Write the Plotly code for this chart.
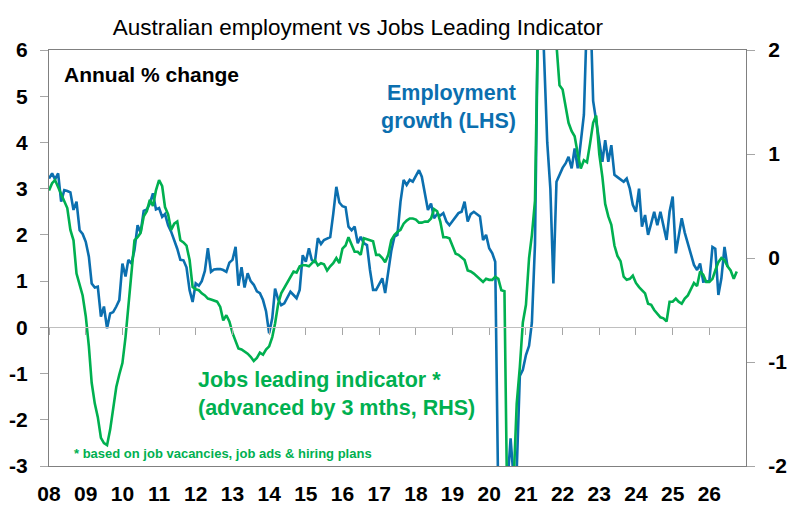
import pandas as pd
import plotly.graph_objects as go

# employment growth, annual % change, monthly from Jan 2008 (LHS)
emp_growth = [
    3.22, 3.33, 3.20, 3.33, 2.72, 2.97, 2.95, 2.92, 2.54, 2.72, 2.10, 2.02,   # 2008
    1.85, 1.53, 0.95, 0.86, 0.88, 0.23, 0.45, -0.02, 0.30, 0.33, 0.45, 0.59,  # 2009
    1.38, 1.10, 1.46, 1.38, 1.67, 2.21, 2.05, 2.52, 2.55, 2.68, 2.90, 2.55,   # 2010
    2.58, 2.39, 2.45, 2.21, 2.07, 1.89, 1.70, 1.46, 1.45, 1.30, 0.80, 0.55,   # 2011
    0.95, 0.90, 1.00, 1.22, 1.71, 1.20, 1.25, 1.26, 1.26, 1.24, 1.20, 1.40,   # 2012
    1.46, 1.74, 0.90, 1.30, 0.86, 1.17, 1.00, 0.92, 0.78, 0.74, 0.59, 0.35,   # 2013
    -0.13, 0.20, 0.84, 0.60, 0.48, 0.52, 0.65, 0.77, 0.70, 0.63, 0.81, 1.56,  # 2014
    1.42, 1.71, 1.46, 1.40, 1.93, 1.80, 1.89, 1.92, 1.95, 2.45, 3.04, 2.70,   # 2015
    2.62, 2.60, 2.18, 2.10, 2.18, 1.82, 1.96, 1.82, 1.78, 1.24, 0.81, 0.81,   # 2016
    0.95, 1.06, 0.74, 1.24, 1.65, 1.96, 2.00, 2.72, 3.19, 3.08, 3.19, 3.15,   # 2017
    3.26, 3.40, 3.26, 2.90, 2.54, 2.68, 2.36, 2.45, 2.42, 2.47, 2.29, 2.21,   # 2018
    2.30, 2.39, 2.47, 2.50, 2.72, 2.29, 2.45, 2.50, 2.45, 2.40, 1.89, 2.00,   # 2019
    1.71, 1.60, 1.42, -3.8, -4.4, -3.9, -3.4, -2.4, -3.3, -3.1, -1.05, -0.92, # 2020
    -0.60, -0.40, 0.10, 1.80, 6.80, 7.60, 5.60, 4.00, 3.00, 0.95, 3.15, 3.30, # 2021
    3.45, 3.55, 3.69, 3.44, 3.87, 3.44, 4.02, 4.60, 6.80, 7.20, 4.90, 4.50,   # 2022
    4.05, 3.58, 4.05, 3.58, 3.94, 3.30, 3.25, 3.19, 3.15, 3.22, 3.00, 2.65,   # 2023
    2.50, 3.00, 2.18, 2.43, 2.00, 2.25, 2.50, 2.21, 2.50, 2.20, 1.89, 2.50,   # 2024
    2.83, 1.60, 2.00, 2.36, 2.05, 1.82, 1.60, 1.35, 1.24, 1.38, 0.99, 1.00,   # 2025
    1.00, 1.74, 1.70, 0.70, 1.06, 1.74, 1.31,                                 # 2026
]

# jobs leading indicator, advanced by 3 months, monthly from Jan 2008 (RHS)
jobs_leading = [
    0.65, 0.72, 0.75, 0.68, 0.60, 0.53, 0.48, 0.27, 0.17, -0.15, -0.25, -0.36,      # 2008
    -0.56, -0.85, -1.20, -1.40, -1.53, -1.73, -1.78, -1.80, -1.65, -1.46, -1.24, -1.12,  # 2009
    -1.01, -0.76, -0.47, -0.12, 0.17, 0.20, 0.24, 0.40, 0.45, 0.56, 0.50, 0.65,     # 2010
    0.75, 0.69, 0.49, 0.42, 0.27, 0.33, 0.35, 0.17, 0.15, 0.12, -0.02, -0.28,       # 2011
    -0.30, -0.31, -0.34, -0.36, -0.39, -0.40, -0.41, -0.42, -0.47, -0.60, -0.55, -0.61,  # 2012
    -0.72, -0.79, -0.87, -0.88, -0.90, -0.92, -0.95, -0.99, -0.96, -0.91, -0.93, -0.88,  # 2013
    -0.85, -0.76, -0.63, -0.44, -0.34, -0.29, -0.23, -0.18, -0.13, -0.14, -0.08, -0.07,  # 2014
    -0.07, -0.08, -0.05, -0.02, -0.07, -0.05, -0.06, -0.12, -0.08, -0.05, 0.00, -0.05,   # 2015
    0.09, 0.12, 0.20, 0.12, 0.06, 0.06, 0.03, 0.19, 0.18, 0.17, 0.16, 0.03,         # 2016
    0.03, 0.00, -0.04, 0.03, 0.17, 0.22, 0.25, 0.27, 0.33, 0.36, 0.38, 0.38,        # 2017
    0.37, 0.34, 0.34, 0.35, 0.35, 0.38, 0.47, 0.45, 0.35, 0.20, 0.20, 0.19,         # 2018
    0.12, 0.04, 0.03, 0.00, -0.02, -0.12, -0.13, -0.15, -0.18, -0.20, -0.23, -0.20, # 2019
    -0.21, -0.21, -0.18, -0.20, -0.31, -0.32, -2.60, -2.90, -2.15, -1.40, -1.05, -0.62,  # 2020
    -0.45, 0.00, 0.22, 0.55, 2.30, 2.90, 3.30, 3.20, 2.90, 2.50, 2.05, 1.66,        # 2021
    1.62, 1.45, 1.30, 1.22, 1.17, 1.00, 0.86, 0.94, 0.92, 1.10, 1.30, 1.37,         # 2022
    1.00, 0.78, 0.52, 0.40, 0.32, 0.12, 0.02, -0.03, -0.18, -0.21, -0.20, -0.17,    # 2023
    -0.24, -0.28, -0.31, -0.34, -0.44, -0.45, -0.50, -0.53, -0.57, -0.58, -0.61, -0.42,  # 2024
    -0.42, -0.39, -0.42, -0.44, -0.39, -0.36, -0.30, -0.24, -0.27, -0.13, -0.16, -0.23,  # 2025
    -0.23, -0.20, -0.12, -0.04, 0.00, -0.02, -0.08, -0.12, -0.20, -0.13,            # 2026
]

year_ticks = [f"{y}-01-01" for y in range(2008, 2027)]
year_labels = [f"{y % 100:02d}" for y in range(2008, 2027)]
lhs_ticks = [-3, -2, -1, 0, 1, 2, 3, 4, 5, 6]
lhs_labels = ["-3", "-2", "-1", "0", "1", "2", "3", "4", "5", "6"]
rhs_ticks = [-2, -1, 0, 1, 2]
rhs_labels = ["-2", "-1", "0", "1", "2"]

emp_dates = pd.date_range("2008-01-01", periods=len(emp_growth), freq="MS")
jli_dates = pd.date_range("2008-01-01", periods=len(jobs_leading), freq="MS")

BLUE = "#0B6FAF"
GREEN = "#00B050"
FONT = "Liberation Sans, Arial, sans-serif"
x_range = ["2008-01-01", "2027-01-01"]

fig = go.Figure()
fig.add_trace(go.Scatter(x=emp_dates, y=emp_growth, mode="lines",
                         line=dict(color=BLUE, width=2.6),
                         xaxis="x", yaxis="y", showlegend=False))
fig.add_trace(go.Scatter(x=jli_dates, y=jobs_leading, mode="lines",
                         line=dict(color=GREEN, width=2.6),
                         xaxis="x2", yaxis="y2", showlegend=False))

tick_font = dict(family=FONT, size=21, color="black", weight="bold")

fig.update_layout(
    width=792, height=515,
    margin=dict(l=49, r=46, t=50, b=49),
    paper_bgcolor="white", plot_bgcolor="white",
    title=dict(text="Australian employment vs Jobs Leading Indicator",
               x=0.452, xanchor="center", y=0.947, yanchor="middle",
               font=dict(family=FONT, size=22.5, color="black")),
    xaxis=dict(type="date", range=x_range, tickmode="array",
               tickvals=year_ticks, ticktext=year_labels,
               ticks="outside", ticklen=9, tickcolor="rgba(0,0,0,0)",
               tickfont=tick_font, automargin=False,
               showline=True, mirror=True, linecolor="#808080", linewidth=1,
               showgrid=False, zeroline=False),
    xaxis2=dict(type="date", range=x_range, tickmode="array",
                tickvals=year_ticks, overlaying="x", anchor="free",
                position=1 / 3, ticks="outside", ticklen=7,
                tickcolor="#A6A6A6", showticklabels=False, automargin=False,
                showline=True, linecolor="#BFBFBF", linewidth=1,
                showgrid=False, zeroline=False),
    yaxis=dict(range=[-3, 6], tickmode="array", tickvals=lhs_ticks,
               ticktext=lhs_labels, ticks="outside", ticklen=8,
               tickcolor="#A6A6A6", tickfont=tick_font, ticklabelstandoff=8,
               automargin=False, showline=True, linecolor="#808080",
               linewidth=1, showgrid=False, zeroline=False),
    yaxis2=dict(range=[-2, 2], tickmode="array", tickvals=rhs_ticks,
                ticktext=rhs_labels, overlaying="y", side="right",
                anchor="x", ticks="outside", ticklen=8, tickcolor="#A6A6A6",
                tickfont=tick_font, ticklabelstandoff=9, automargin=False,
                showline=True, linecolor="#808080", linewidth=1,
                showgrid=False, zeroline=False),
)

fig.add_annotation(text="Annual % change", xref="paper", yref="paper",
                   x=0.0187, y=0.94, xanchor="left", yanchor="middle",
                   showarrow=False,
                   font=dict(family=FONT, size=21, color="black", weight="bold"))
fig.add_annotation(text="Employment<br>growth (LHS)", xref="paper", yref="paper",
                   x=0.673, y=0.862, xanchor="right", yanchor="middle",
                   align="right", showarrow=False,
                   font=dict(family=FONT, size=21.5, color=BLUE, weight="bold"))
fig.add_annotation(text="Jobs leading indicator *<br>(advanced by 3 mths, RHS)",
                   xref="paper", yref="paper", x=0.211, y=0.172,
                   xanchor="left", yanchor="middle", align="left",
                   showarrow=False,
                   font=dict(family=FONT, size=21.5, color=GREEN, weight="bold"))
fig.add_annotation(text="* based on job vacancies, job ads & hiring plans",
                   xref="paper", yref="paper", x=0.033, y=0.029,
                   xanchor="left", yanchor="middle", showarrow=False,
                   font=dict(family=FONT, size=13, color=GREEN, weight="bold"))

# the page body has a default 8px margin; drop it so the figure fills the window
fig.write_html("out.html",
               config={"displayModeBar": False},
               post_script="document.body.style.margin='0px';"
                           "document.body.style.overflow='hidden';")
